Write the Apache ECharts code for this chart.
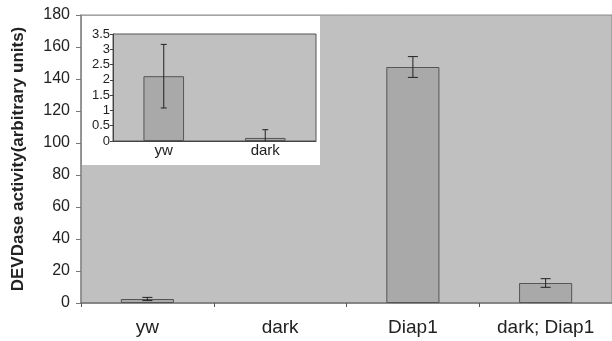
<!DOCTYPE html>
<html>
<head>
<meta charset="utf-8">
<script src="https://cdn.jsdelivr.net/npm/echarts@6/dist/echarts.min.js"></script>
<style>
  html, body { margin: 0; padding: 0; background: #fff; }
  #chart { width: 612px; height: 341px; }
</style>
</head>
<body>
<div id="chart"></div>
<script>
// main chart data
const categories = ['yw', 'dark', 'Diap1', 'dark; Diap1'];
const activity = [2.5, 0, 147.5, 12.5];
const activityErr = [1, 0, 6.5, 2.7];
const yTicks = [0, 20, 40, 60, 80, 100, 120, 140, 160, 180];

// inset data
const insetCategories = ['yw', 'dark'];
const insetActivity = [2.12, 0.1];
const insetErr = [1.04, 0.27];
const insetTicks = [0, 0.5, 1, 1.5, 2, 2.5, 3, 3.5];

const font = 'Liberation Sans, Arial, sans-serif';
const barColor = '#a9a9a9';
const edge = '#555';

function errorBar(capHalf) {
  return function (params, api) {
    const x = api.value(0);
    const v = api.value(1);
    const e = api.value(2);
    if (!e) return null;
    const hi = api.coord([x, v + e]);
    const lo = api.coord([x, v - e]);
    const style = { stroke: '#222', lineWidth: 1 };
    return {
      type: 'group',
      children: [
        { type: 'line', shape: { x1: hi[0], y1: hi[1], x2: lo[0], y2: lo[1] }, style: style },
        { type: 'line', shape: { x1: hi[0] - capHalf, y1: hi[1], x2: hi[0] + capHalf, y2: hi[1] }, style: style },
        { type: 'line', shape: { x1: lo[0] - capHalf, y1: lo[1], x2: lo[0] + capHalf, y2: lo[1] }, style: style }
      ]
    };
  };
}

// a zero bar draws no outline
function barItems(values) {
  return values.map(v => v > 0 ? v : { value: v, itemStyle: { borderWidth: 0 } });
}

let myChart = echarts.init(document.getElementById('chart'));
myChart.setOption({
  animation: false,
  textStyle: { fontFamily: font },
  grid: [{
    left: 81, top: 15, right: -5, bottom: 38,
    show: true, backgroundColor: '#c0c0c0', borderColor: '#8a8a8a', borderWidth: 1,
    z: 0
  }, {
    left: 113, top: 34, right: 296, bottom: 200,
    show: true, backgroundColor: '#c0c0c0', borderColor: '#555', borderWidth: 1,
    z: 3
  }],
  graphic: [{
    type: 'rect',
    z: 2,
    shape: { x: 82, y: 16, width: 238, height: 149 },
    style: { fill: '#ffffff' }
  }],
  xAxis: [{
    gridIndex: 0,
    type: 'category',
    data: categories,
    axisLine: { lineStyle: { color: '#777', width: 1.5 } },
    axisTick: { show: true, length: 4, lineStyle: { color: '#555' } },
    axisLabel: { color: '#222', fontSize: 19, margin: 15 }
  }, {
    gridIndex: 1,
    type: 'category',
    data: insetCategories,
    z: 4,
    axisLine: { lineStyle: { color: '#444' } },
    axisTick: { show: false },
    axisLabel: { color: '#222', fontSize: 15, margin: 2 }
  }],
  yAxis: [{
    gridIndex: 0,
    type: 'value',
    min: 0, max: 180, interval: 20,
    name: 'DEVDase activity(arbitrary units)',
    nameLocation: 'middle',
    nameGap: 54,
    nameTextStyle: { fontSize: 17, fontWeight: 'bold', color: '#222' },
    splitLine: { show: false },
    axisLine: { show: true, lineStyle: { color: '#888', width: 1.5 } },
    axisTick: { show: true, length: 5, lineStyle: { color: '#777' } },
    axisLabel: {
      color: '#222', fontSize: 16, margin: 11,
      formatter: function (v) { return yTicks.indexOf(v) >= 0 ? String(v) : ''; }
    }
  }, {
    gridIndex: 1,
    type: 'value',
    min: 0, max: 3.5, interval: 0.5,
    z: 4,
    splitLine: { show: false },
    axisLine: { show: true, lineStyle: { color: '#444' } },
    axisTick: { show: true, length: 3, lineStyle: { color: '#444' } },
    axisLabel: {
      color: '#222', fontSize: 13, margin: 3,
      formatter: function (v) { return insetTicks.indexOf(v) >= 0 ? String(v) : ''; }
    }
  }],
  series: [{
    type: 'bar',
    xAxisIndex: 0, yAxisIndex: 0,
    data: barItems(activity),
    barWidth: '40%',
    itemStyle: { color: barColor, borderColor: edge, borderWidth: 1 },
    z: 1
  }, {
    type: 'custom',
    xAxisIndex: 0, yAxisIndex: 0,
    data: categories.map((c, i) => [i, activity[i], activityErr[i]]),
    renderItem: errorBar(5),
    clip: true,
    z: 2
  }, {
    type: 'bar',
    xAxisIndex: 1, yAxisIndex: 1,
    data: barItems(insetActivity),
    barWidth: '40%',
    itemStyle: { color: barColor, borderColor: edge, borderWidth: 1 },
    z: 5
  }, {
    type: 'custom',
    xAxisIndex: 1, yAxisIndex: 1,
    data: insetCategories.map((c, i) => [i, insetActivity[i], insetErr[i]]),
    renderItem: errorBar(3),
    clip: true,
    z: 6
  }]
});

window.addEventListener('resize', function () {
  myChart.resize();
});
</script>
</body>
</html>
